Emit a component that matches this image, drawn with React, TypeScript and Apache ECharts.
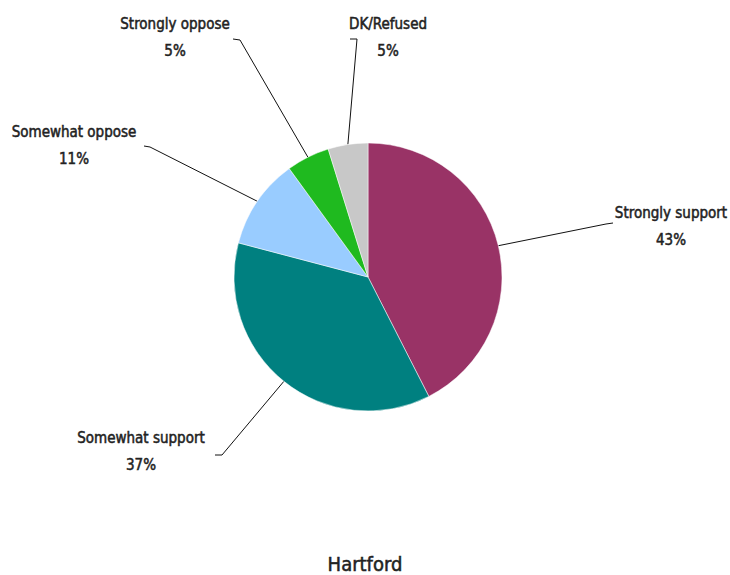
import React, { useEffect, useRef } from "react";
import * as echarts from "echarts";

const categories = ["Strongly support", "Somewhat support", "Somewhat oppose", "Strongly oppose", "DK/Refused"];
const values = [42.5, 36.6, 10.9, 5.2, 4.8];
const colors = ["#993366", "#008080", "#99CCFF", "#1FBA1F", "#C8C8C8"];
const chartTitle = "Hartford";

// label anchor (text-block centre) and the end of the leader line, per slice
const labelCentres = [[671, 226], [141, 451], [74, 145], [175, 37], [388, 37]];
const lineEnds = [[[606, 224], [613, 223]], [[222, 455], [215, 455]], [[150, 147], [144, 146]], [[240, 40], [233, 39]], [[357, 39], [350, 39]]];

const CX = 368, CY = 277, R = 134;

export default function App() {
  const ref = useRef<HTMLDivElement>(null);
  useEffect(() => {
    const chart = echarts.init(ref.current!, null, { renderer: "svg" });
    const total = values.reduce((a, b) => a + b, 0);
    const mids: number[] = [];
    let acc = 0;
    values.forEach((v) => {
      mids.push(((acc + v / 2) / total) * Math.PI * 2);
      acc += v;
    });
    const font = "'DejaVu Sans Condensed', sans-serif";
    chart.setOption({
      animation: false,
      title: {
        text: chartTitle,
        left: "center",
        top: 549,
        textStyle: {
          fontFamily: font, fontSize: 20, fontWeight: "normal", color: "#222",
          textBorderColor: "#222", textBorderWidth: 0.5,
        },
      },
      series: [
        {
          type: "pie",
          center: [CX, CY],
          radius: [0, R],
          startAngle: 90,
          clockwise: true,
          data: categories.map((c, i) => ({ name: c, value: values[i], itemStyle: { color: colors[i] } })),
          itemStyle: { borderColor: "#fff", borderWidth: 0.5 },
          label: {
            show: true,
            position: "outside",
            formatter: (p: any) => `${p.name}\n${Math.round(p.percent)}%`,
            fontFamily: font,
            fontSize: 15,
            lineHeight: 27,
            color: "#222",
            textBorderColor: "#222",
            textBorderWidth: 0.5,
            align: "center",
          },
          labelLine: { show: true, lineStyle: { color: "#111", width: 1 } },
          labelLayout: (params: any) => {
            const i = params.dataIndex;
            const a = mids[i];
            const edge = [CX + R * Math.sin(a), CY - R * Math.cos(a)];
            return {
              x: labelCentres[i][0],
              y: labelCentres[i][1],
              align: "center",
              verticalAlign: "middle",
              labelLinePoints: [edge, lineEnds[i][0], lineEnds[i][1]],
            };
          },
        },
      ],
    });
    return () => chart.dispose();
  }, []);
  return <div ref={ref} style={{ position: "absolute", left: 0, top: 0, width: 730, height: 575 }} />;
}
